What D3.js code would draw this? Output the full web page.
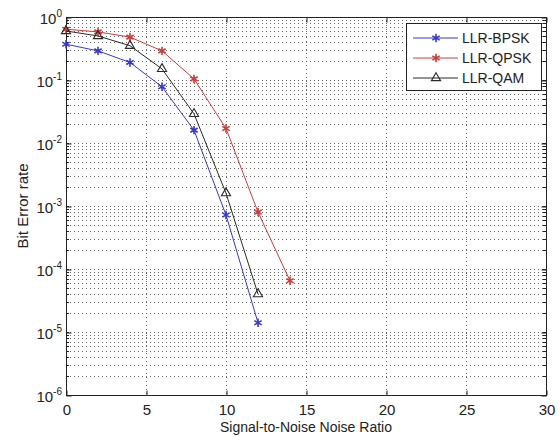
<!DOCTYPE html>
<html>
<head>
<meta charset="utf-8">
<script src="https://cdn.jsdelivr.net/npm/d3@7.9.0/dist/d3.min.js"></script>
<style>
  body { margin: 0; background: #fff; }
  svg text { font-family: "Liberation Sans", Arial, sans-serif; fill: #222; }
</style>
</head>
<body>
<svg id="chart" width="560" height="437"></svg>
<script>
// data
const snr = [0, 2, 4, 6, 8, 10, 12, 14];
const berBPSK = [0.37, 0.29, 0.19, 0.078, 0.016, 7.2e-4, 1.4e-5];
const berQPSK = [0.64, 0.58, 0.48, 0.29, 0.104, 0.017, 8e-4, 6.5e-5];
const berQAM = [0.6, 0.5, 0.35, 0.15, 0.029, 1.6e-3, 4e-5];
const xTicks = [0, 5, 10, 15, 20, 25, 30];
const yExps = [0, -1, -2, -3, -4, -5, -6];

const series = [
  { name: 'LLR-BPSK', values: berBPSK, color: '#3838cc', marker: 'star' },
  { name: 'LLR-QPSK', values: berQPSK, color: '#cc3c3c', marker: 'star' },
  { name: 'LLR-QAM', values: berQAM, color: '#2a2a2a', marker: 'tri' },
];

const svg = d3.select('#chart');
const pLeft = 66, pRight = 546, pTop = 17, pBottom = 395;

const x = d3.scaleLinear().domain([0, 30]).range([pLeft, pRight]);
const y = d3.scaleLog().domain([1e-6, 1]).range([pBottom, pTop]);

// grid
const grid = svg.append('g').attr('stroke', '#666').attr('stroke-width', 1)
  .attr('stroke-dasharray', '1,3');
xTicks.slice(1, -1).forEach((t) => {
  grid.append('line')
    .attr('x1', x(t) + 0.5).attr('x2', x(t) + 0.5)
    .attr('y1', pTop).attr('y2', pBottom);
});
const minor = [];
yExps.slice(1).forEach((e) => {
  for (let k = 1; k <= 9; k++) minor.push(k * Math.pow(10, e));
});
minor.forEach((v) => {
  if (v >= 1 || v <= 1e-6) return;
  grid.append('line')
    .attr('x1', pLeft).attr('x2', pRight)
    .attr('y1', Math.round(y(v)) + 0.5).attr('y2', Math.round(y(v)) + 0.5);
});

// frame and ticks
svg.append('rect')
  .attr('x', pLeft + 0.5).attr('y', pTop + 0.5)
  .attr('width', pRight - pLeft).attr('height', pBottom - pTop)
  .attr('fill', 'none').attr('stroke', '#222');

const xAxis = svg.append('g').attr('transform', `translate(0.5,${pBottom + 0.5})`)
  .call(d3.axisBottom(x).tickValues(xTicks).tickSizeInner(-5).tickSizeOuter(0).tickPadding(9));
xAxis.select('.domain').remove();
xAxis.selectAll('text').attr('font-size', 15).attr('fill', '#222').style('font-family', '"Liberation Sans", Arial, sans-serif');
xAxis.selectAll('line').attr('stroke', '#222');

const xTop = svg.append('g').attr('transform', `translate(0.5,${pTop + 0.5})`)
  .call(d3.axisTop(x).tickValues(xTicks).tickSizeInner(-5).tickSizeOuter(0).tickFormat(''));
xTop.select('.domain').remove();
xTop.selectAll('line').attr('stroke', '#222');

const yTickVals = yExps.map((e) => Math.pow(10, e));
const yAxis = svg.append('g').attr('transform', `translate(${pLeft + 0.5},0.5)`)
  .call(d3.axisLeft(y).tickValues(yTickVals).tickSizeInner(-5).tickSizeOuter(0).tickFormat(''));
yAxis.select('.domain').remove();
yAxis.selectAll('line').attr('stroke', '#222');

const yRight = svg.append('g').attr('transform', `translate(${pRight + 0.5},0.5)`)
  .call(d3.axisRight(y).tickValues(yTickVals).tickSizeInner(-5).tickSizeOuter(0).tickFormat(''));
yRight.select('.domain').remove();
yRight.selectAll('line').attr('stroke', '#222');

// minor y ticks
minor.forEach((v) => {
  if (v >= 1 || v <= 1e-6) return;
  const yy = Math.round(y(v)) + 0.5;
  svg.append('line').attr('x1', pLeft).attr('x2', pLeft + 3).attr('y1', yy).attr('y2', yy).attr('stroke', '#222');
  svg.append('line').attr('x1', pRight - 3).attr('x2', pRight).attr('y1', yy).attr('y2', yy).attr('stroke', '#222');
});

// y tick labels with superscripts
yExps.forEach((e) => {
  const t = svg.append('text')
    .attr('x', pLeft - 4).attr('y', y(Math.pow(10, e)) + 7)
    .attr('text-anchor', 'end').attr('font-size', 15);
  t.append('tspan').text('10');
  t.append('tspan').attr('dy', -7).attr('font-size', 10).text(String(e));
});

// axis titles
svg.append('text')
  .attr('x', x(15)).attr('y', 432)
  .attr('text-anchor', 'middle').attr('font-size', 14)
  .text('Signal-to-Noise Noise Ratio');
svg.append('text')
  .attr('transform', `translate(28,${(pTop + pBottom) / 2}) rotate(-90)`)
  .attr('text-anchor', 'middle').attr('font-size', 15)
  .text('Bit Error rate');

// lines and markers
const line = d3.line().x((d, i) => x(snr[i])).y((d) => y(d));
const star = d3.symbol().type(d3.symbolAsterisk).size(50);
const tri = d3.symbol().type(d3.symbolTriangle2).size(60);

function drawMarker(g, kind, color, cx, cy) {
  g.append('path')
    .attr('d', kind === 'star' ? star() : tri())
    .attr('transform', `translate(${cx},${cy})`)
    .attr('fill', 'none').attr('stroke', color).attr('stroke-width', kind === 'star' ? 1.6 : 1.1);
}

series.forEach((s) => {
  const g = svg.append('g');
  g.append('path').datum(s.values)
    .attr('d', line)
    .attr('fill', 'none').attr('stroke', s.color).attr('stroke-width', 1);
  s.values.forEach((v, i) => drawMarker(g, s.marker, s.color, x(snr[i]), y(v)));
});

// legend
const lg = svg.append('g');
lg.append('rect')
  .attr('x', 406.5).attr('y', 23.5).attr('width', 135).attr('height', 67)
  .attr('fill', '#fff').attr('stroke', '#222');
series.forEach((s, i) => {
  const ly = 38 + i * 20;
  lg.append('line').attr('x1', 413).attr('x2', 458).attr('y1', ly).attr('y2', ly)
    .attr('stroke', s.color).attr('stroke-width', 1);
  drawMarker(lg, s.marker, s.color, 436, ly);
  lg.append('text').attr('x', 462).attr('y', ly + 5).attr('font-size', 14).text(s.name);
});
</script>
</body>
</html>
